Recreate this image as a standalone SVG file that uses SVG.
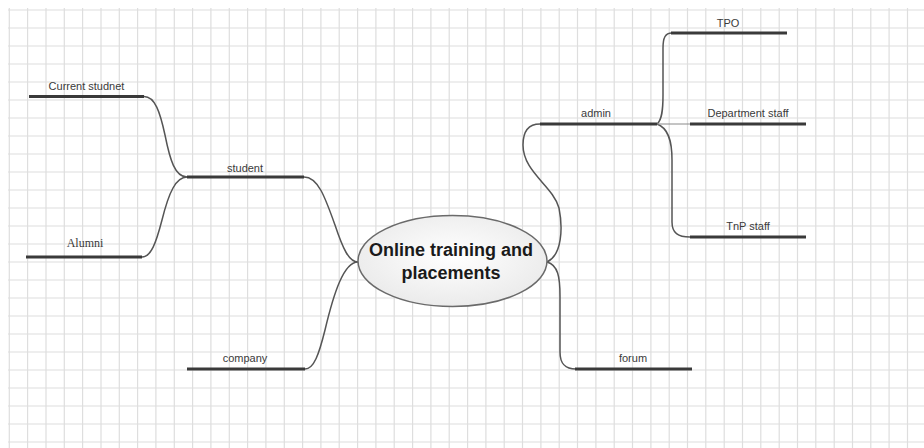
<svg xmlns="http://www.w3.org/2000/svg" width="924" height="448" viewBox="0 0 924 448">
  <style>
    .grid { fill: none; stroke: #dedede; stroke-width: 1.2; }
    .bar { stroke: #3a3a3a; stroke-width: 3; stroke-linecap: butt; }
    .link { fill: none; stroke: #555555; stroke-width: 1.5; }
    .thin { fill: none; stroke: #8a8a8a; stroke-width: 1; }
    .label { font-family: "Liberation Sans", Arial, sans-serif; font-size: 11px; fill: #3a3a3a; text-anchor: middle; }
    .serif { font-family: "Liberation Serif", "Times New Roman", serif; font-size: 12px; fill: #3a3a3a; text-anchor: middle; }
    .title { font-family: "Liberation Sans", Arial, sans-serif; font-size: 18px; font-weight: bold; fill: #1a1a1a; text-anchor: middle; }
  </style>
  <defs>
    <radialGradient id="bubble" cx="50%" cy="45%" r="60%">
      <stop offset="0" stop-color="#ffffff"/>
      <stop offset="1" stop-color="#e9e9e9"/>
    </radialGradient>
  </defs>

  <rect x="0" y="0" width="924" height="448" fill="#ffffff"/>

  <!-- squared paper background -->
  <path class="grid" d="M9.3 8V448M27.6 8V448M46 8V448M64.3 8V448M82.6 8V448M101 8V448M119.3 8V448M137.6 8V448M155.9 8V448M174.3 8V448M192.6 8V448M210.9 8V448M229.3 8V448M247.6 8V448M265.9 8V448M284.3 8V448M302.6 8V448M320.9 8V448M339.2 8V448M357.6 8V448M375.9 8V448M394.2 8V448M412.6 8V448M430.9 8V448M449.2 8V448M467.6 8V448M485.9 8V448M504.2 8V448M522.5 8V448M540.9 8V448M559.2 8V448M577.5 8V448M595.9 8V448M614.2 8V448M632.5 8V448M650.9 8V448M669.2 8V448M687.5 8V448M705.8 8V448M724.2 8V448M742.5 8V448M760.8 8V448M779.2 8V448M797.5 8V448M815.8 8V448M834.2 8V448M852.5 8V448M870.8 8V448M889.1 8V448M907.5 8V448"/>
  <path class="grid" d="M8 10H924M8 28H924M8 46H924M8 64H924M8 82H924M8 100H924M8 118H924M8 136H924M8 154H924M8 172H924M8 190H924M8 208H924M8 226H924M8 244H924M8 262H924M8 280H924M8 298H924M8 316H924M8 334H924M8 352H924M8 370H924M8 388H924M8 406H924M8 424H924M8 442H924"/>

  <!-- branch connectors -->
  <g id="connectors">
    <path class="link" d="M144 96.5C155 96.5 160 112 165 135C170 160 175 177 187 177"/>
    <path class="link" d="M142 257C151 257 156 243 162 220C169 192 176 177 187 177"/>
    <path class="link" d="M304 177C318 177 325 197 335 225C343 249 349 262 358 262"/>
    <path class="link" d="M305 369C314 369 319 354 325 330C334 292 344 262 358 262"/>
    <path class="link" d="M547 262C562 255 563 228 559 208C553 186 523 172 523 145C523 130 530 124 540 124"/>
    <path class="link" d="M547 262C558 265 560 277 560 296L560 352C560 365 566 369 576 369"/>
    <path class="link" d="M657 124C662 120 663 110 663 95L663 48C663 38 665 33 672 33"/>
    <path class="link" d="M657 124C668 128 672 140 672 160L672 222C672 233 678 237 690 237"/>
    <path class="thin" d="M657 124H690"/>
  </g>

  <g id="center">
    <ellipse cx="452.5" cy="261" rx="94.5" ry="45.5" fill="url(#bubble)" stroke="#6a6a6a" stroke-width="1.5"/>
    <text class="title" x="451" y="256">Online training and</text>
    <text class="title" x="451" y="279">placements</text>
  </g>

  <g id="current-student">
    <line class="bar" x1="29" y1="96.5" x2="144" y2="96.5"/>
    <text class="label" x="86.5" y="90">Current studnet</text>
  </g>

  <g id="student">
    <line class="bar" x1="187" y1="177" x2="304" y2="177"/>
    <text class="label" x="245" y="172">student</text>
  </g>

  <g id="alumni">
    <line class="bar" x1="26" y1="257" x2="142" y2="257"/>
    <text class="serif" x="85" y="247">Alumni</text>
  </g>

  <g id="company">
    <line class="bar" x1="187" y1="369" x2="305" y2="369"/>
    <text class="label" x="245" y="362">company</text>
  </g>

  <g id="admin">
    <line class="bar" x1="540" y1="124" x2="657" y2="124"/>
    <text class="label" x="596" y="117">admin</text>
  </g>

  <g id="tpo">
    <line class="bar" x1="671" y1="33" x2="787" y2="33"/>
    <text class="label" x="728" y="27">TPO</text>
  </g>

  <g id="department-staff">
    <line class="bar" x1="690" y1="124" x2="806" y2="124"/>
    <text class="label" x="748" y="117">Department staff</text>
  </g>

  <g id="tnp-staff">
    <line class="bar" x1="690" y1="237" x2="806" y2="237"/>
    <text class="label" x="748" y="230">TnP staff</text>
  </g>

  <g id="forum">
    <line class="bar" x1="575" y1="369" x2="692" y2="369"/>
    <text class="label" x="633" y="362">forum</text>
  </g>
</svg>
